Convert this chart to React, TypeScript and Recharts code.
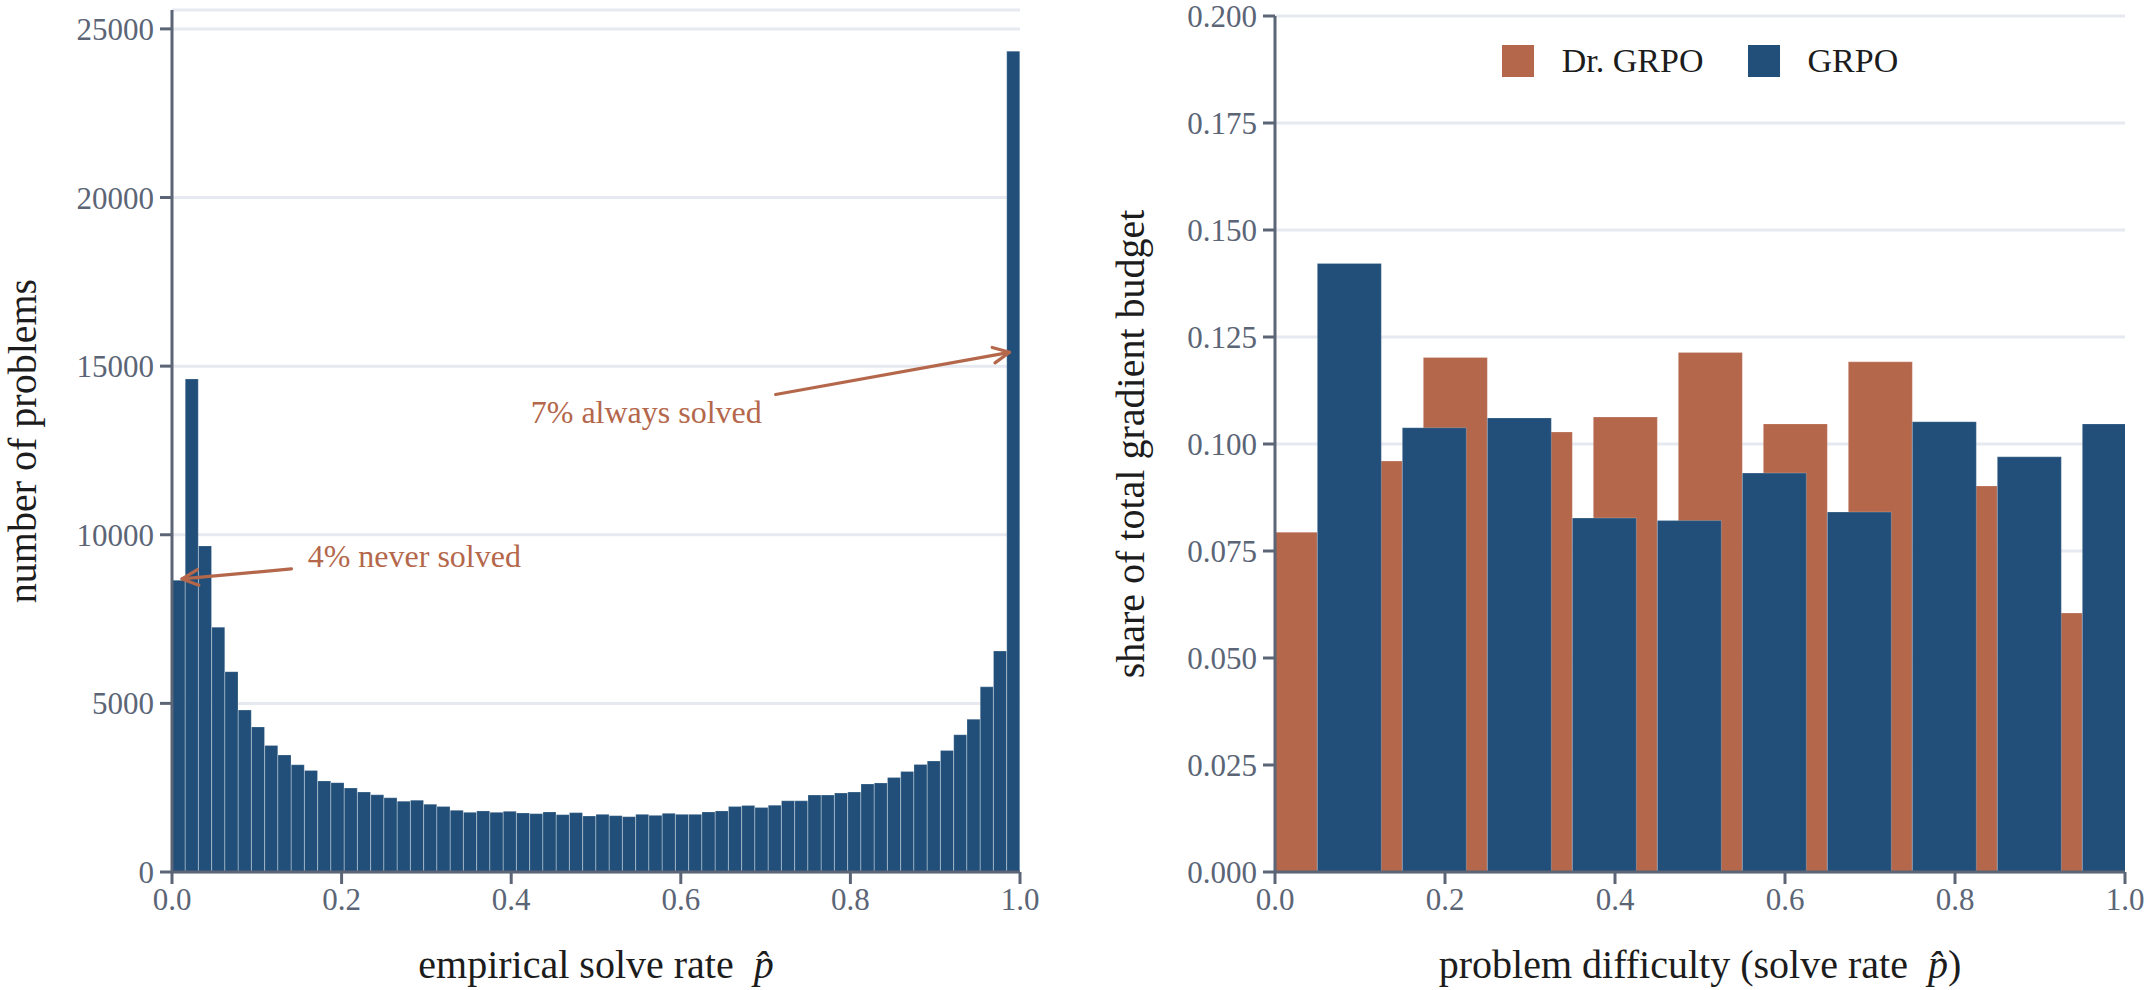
import React from 'react';
import {
  BarChart,
  Bar,
  XAxis,
  YAxis,
  CartesianGrid,
  ReferenceLine,
  ReferenceDot,
  Legend,
  Label,
} from 'recharts';

const FONT = '"Liberation Serif", "Times New Roman", Times, serif';
const BLUE = '#214f79';
const ORANGE = '#b4674b';
const AXIS = '#5b6576';
const GRID = '#e6e9ef';
const TITLE = '#1c1c1c';

// ---------- Left panel: histogram of empirical solve rate ----------
const HIST_BINS = 64;
const histCounts = [
  8650, 14620, 9670, 7260, 5940, 4800, 4300, 3750, 3470, 3180, 3010, 2700, 2650, 2490, 2370, 2290,
  2200, 2100, 2130, 2010, 1940, 1830, 1770, 1810, 1770, 1800, 1750, 1730, 1780, 1700, 1760, 1660,
  1710, 1670, 1640, 1710, 1680, 1740, 1710, 1710, 1780, 1810, 1940, 1970, 1910, 1980, 2110, 2110,
  2280, 2280, 2340, 2370, 2610, 2640, 2800, 2980, 3190, 3290, 3600, 4070, 4530, 5490, 6550, 24340,
];
const histTicksX = [0, 0.2, 0.4, 0.6, 0.8, 1.0];
const histTicksY = [0, 5000, 10000, 15000, 20000, 25000];
const HIST_Y_MAX = 25560;

const histData = histCounts.map((count, i) => ({ p: (i + 0.5) / HIST_BINS, count }));

// annotations (data coordinates of the left panel)
const neverSolved = {
  text: '4% never solved',
  textAt: { x: 0.16, y: 9380 },
  from: { x: 0.1408, y: 8990 },
  to: { x: 0.0118, y: 8690 },
};
const alwaysSolved = {
  text: '7% always solved',
  textAt: { x: 0.6955, y: 13630 },
  from: { x: 0.7118, y: 14160 },
  to: { x: 0.9877, y: 15410 },
};

// ---------- Right panel: share of gradient budget ----------
const difficultyBins = [0.05, 0.15, 0.25, 0.35, 0.45, 0.55, 0.65, 0.75, 0.85, 0.95];
const drGrpoShare = [0.0794, 0.096, 0.1202, 0.1028, 0.1063, 0.1214, 0.1047, 0.1192, 0.0902, 0.0605];
const grpoShare = [0.1422, 0.1038, 0.1061, 0.0827, 0.0821, 0.0932, 0.0841, 0.1052, 0.097, 0.1047];
const shareTicksY = [0, 0.025, 0.05, 0.075, 0.1, 0.125, 0.15, 0.175, 0.2];
const shareTicksX = [0, 0.2, 0.4, 0.6, 0.8, 1.0];

const shareData = difficultyBins.map((x, i) => ({ x, dr: drGrpoShare[i], grpo: grpoShare[i] }));

// ---------- layout ----------
const H = 990;
const LEFT_W = 1100;
const LEFT_MARGIN = { top: 10, right: 80, bottom: 0, left: 0 };
const LEFT_YAXIS_W = 172;
const RIGHT_W = 1047;
const RIGHT_MARGIN = { top: 16, right: 22, bottom: 0, left: 0 };
const RIGHT_YAXIS_W = 175;
const XAXIS_H = 118;
const RIGHT_PLOT_W = RIGHT_W - RIGHT_MARGIN.right - RIGHT_MARGIN.left - RIGHT_YAXIS_W;
const BIN_W = 0.1;
const BAR_FRAC = 0.0755;
const RIGHT_BAR_GAP = RIGHT_PLOT_W * (BIN_W / 2 - BAR_FRAC);

const TICK_FONT = 31;
const TITLE_FONT = 40;

const tickStyle = { fill: AXIS, fontSize: TICK_FONT, fontFamily: FONT };
const lineStyle = { stroke: AXIS, strokeWidth: 3 };

const Arrow = (props: any) => {
  const { x1, y1, x2, y2 } = props;
  const ang = Math.atan2(y2 - y1, x2 - x1);
  const L = 18;
  const A = Math.PI / 7;
  const a1x = x2 - L * Math.cos(ang - A);
  const a1y = y2 - L * Math.sin(ang - A);
  const a2x = x2 - L * Math.cos(ang + A);
  const a2y = y2 - L * Math.sin(ang + A);
  return (
    <g>
      <line x1={x1} y1={y1} x2={x2} y2={y2} stroke={ORANGE} strokeWidth={3.2} strokeLinecap="round" />
      <polyline
        points={`${a1x},${a1y} ${x2},${y2} ${a2x},${a2y}`}
        fill="none"
        stroke={ORANGE}
        strokeWidth={3.2}
        strokeLinecap="round"
        strokeLinejoin="round"
      />
    </g>
  );
};

const makeNote = (text: string, anchor: 'start' | 'end') => (props: any) => (
  <text
    x={props.cx}
    y={props.cy}
    textAnchor={anchor}
    dominantBaseline="central"
    fontFamily={FONT}
    fontSize={32}
    fill={ORANGE}
  >
    {text}
  </text>
);

const makeXTitle = (before: string, after: string) => (props: any) => {
  const vb = props.viewBox;
  return (
    <text
      x={vb.x + vb.width / 2}
      y={vb.y + 106}
      textAnchor="middle"
      fontFamily={FONT}
      fontSize={TITLE_FONT}
      fill={TITLE}
    >
      {before}
      <tspan fontStyle="italic">p̂</tspan>
      {after}
    </text>
  );
};

const makeYTitle = (text: string, dx: number) => (props: any) => {
  const vb = props.viewBox;
  const cx = vb.x + dx;
  const cy = vb.y + vb.height / 2;
  return (
    <text
      x={cx}
      y={cy}
      transform={`rotate(-90, ${cx}, ${cy})`}
      textAnchor="middle"
      dominantBaseline="central"
      fontFamily={FONT}
      fontSize={TITLE_FONT}
      fill={TITLE}
    >
      {text}
    </text>
  );
};

const LegendContent = (props: any) => {
  const payload = props.payload || [];
  return (
    <div
      style={{
        display: 'flex',
        justifyContent: 'center',
        alignItems: 'center',
        height: 40,
        fontFamily: FONT,
        fontSize: 34,
        color: TITLE,
      }}
    >
      {payload.map((entry: any, i: number) => (
        <div
          key={entry.value}
          style={{ display: 'flex', alignItems: 'center', marginLeft: i === 0 ? 0 : 44 }}
        >
          <span
            style={{
              display: 'inline-block',
              width: 32,
              height: 32,
              background: entry.color,
              marginRight: 28,
            }}
          />
          <span>{entry.value}</span>
        </div>
      ))}
    </div>
  );
};

export default function App() {
  return (
    <div
      style={{
        position: 'absolute',
        left: 0,
        top: 0,
        width: 2147,
        height: 990,
        display: 'flex',
        background: '#ffffff',
      }}
    >
      <BarChart
        width={LEFT_W}
        height={H}
        data={histData}
        margin={LEFT_MARGIN}
        barCategoryGap={0}
        barGap={0}
      >
        <CartesianGrid horizontal vertical={false} stroke={GRID} strokeWidth={3} />
        <XAxis
          dataKey="p"
          type="number"
          domain={[0, 1]}
          ticks={histTicksX}
          interval={0}
          tickFormatter={(v: number) => v.toFixed(1)}
          height={XAXIS_H}
          tick={tickStyle}
          axisLine={lineStyle}
          tickLine={lineStyle}
          tickSize={12}
          tickMargin={4}
        >
          <Label content={makeXTitle('empirical solve rate\u2002', '')} />
        </XAxis>
        <YAxis
          type="number"
          domain={[0, HIST_Y_MAX]}
          ticks={histTicksY}
          interval={0}
          width={LEFT_YAXIS_W}
          tick={tickStyle}
          axisLine={lineStyle}
          tickLine={lineStyle}
          tickSize={12}
          tickMargin={6}
        >
          <Label content={makeYTitle('number of problems', 22)} />
        </YAxis>
        <Bar
          dataKey="count"
          fill={BLUE}
          stroke="rgba(255,255,255,0.22)"
          strokeWidth={1}
          isAnimationActive={false}
        />
        <ReferenceLine
          segment={[neverSolved.from, neverSolved.to]}
          shape={Arrow}
          ifOverflow="visible"
        />
        <ReferenceLine
          segment={[alwaysSolved.from, alwaysSolved.to]}
          shape={Arrow}
          ifOverflow="visible"
        />
        <ReferenceDot
          x={neverSolved.textAt.x}
          y={neverSolved.textAt.y}
          r={0}
          shape={makeNote(neverSolved.text, 'start')}
          ifOverflow="visible"
        />
        <ReferenceDot
          x={alwaysSolved.textAt.x}
          y={alwaysSolved.textAt.y}
          r={0}
          shape={makeNote(alwaysSolved.text, 'end')}
          ifOverflow="visible"
        />
      </BarChart>

      <BarChart
        width={RIGHT_W}
        height={H}
        data={shareData}
        margin={RIGHT_MARGIN}
        barCategoryGap={RIGHT_BAR_GAP}
        barGap={0}
      >
        <CartesianGrid horizontal vertical={false} stroke={GRID} strokeWidth={3} />
        <XAxis
          dataKey="x"
          type="number"
          domain={[0, 1]}
          allowDataOverflow
          ticks={shareTicksX}
          interval={0}
          tickFormatter={(v: number) => v.toFixed(1)}
          height={XAXIS_H}
          tick={tickStyle}
          axisLine={lineStyle}
          tickLine={lineStyle}
          tickSize={12}
          tickMargin={4}
        >
          <Label content={makeXTitle('problem difficulty (solve rate\u2002', ')')} />
        </XAxis>
        <YAxis
          type="number"
          domain={[0, 0.2]}
          ticks={shareTicksY}
          interval={0}
          tickFormatter={(v: number) => v.toFixed(3)}
          width={RIGHT_YAXIS_W}
          tick={tickStyle}
          axisLine={lineStyle}
          tickLine={lineStyle}
          tickSize={12}
          tickMargin={6}
        >
          <Label content={makeYTitle('share of total gradient budget', 30)} />
        </YAxis>
        <Legend
          layout="horizontal"
          verticalAlign="middle"
          align="center"
          wrapperStyle={{ top: 41, left: RIGHT_YAXIS_W, width: RIGHT_PLOT_W, height: 40 }}
          content={LegendContent}
        />
        <Bar
          dataKey="dr"
          name="Dr. GRPO"
          fill={ORANGE}
          stroke="rgba(255,255,255,0.22)"
          strokeWidth={1}
          isAnimationActive={false}
        />
        <Bar
          dataKey="grpo"
          name="GRPO"
          fill={BLUE}
          stroke="rgba(255,255,255,0.22)"
          strokeWidth={1}
          isAnimationActive={false}
        />
      </BarChart>
    </div>
  );
}
